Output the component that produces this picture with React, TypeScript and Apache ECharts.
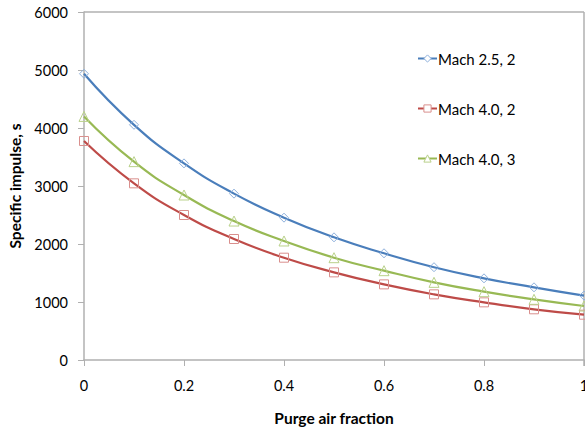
import React, { useEffect, useRef } from "react";
import * as echarts from "echarts";

const purgeFraction = [0, 0.1, 0.2, 0.3, 0.4, 0.5, 0.6, 0.7, 0.8, 0.9, 1.0];
const mach25_2 = [4935, 4055, 3390, 2868, 2454, 2115, 1840, 1600, 1408, 1253, 1110];
const mach40_2 = [3776, 3046, 2500, 2086, 1764, 1511, 1304, 1132, 994, 874, 781];
const mach40_3 = [4200, 3420, 2845, 2396, 2052, 1764, 1540, 1339, 1178, 1046, 931];
const seriesNames = ["Mach 2.5, 2", "Mach 4.0, 2", "Mach 4.0, 3"];

const FONT = "Lato, 'Open Sans', sans-serif";
const LINE_COLORS = ["#4A7EBB", "#BE4B48", "#98B954"];
const MARK_COLORS = ["#8EB0DC", "#D98F8D", "#B9D18A"];

export default function App() {
  const ref = useRef<HTMLDivElement>(null);
  useEffect(() => {
    if (!ref.current) return;
    const chart = echarts.init(ref.current, undefined, { renderer: "svg" });
    const pair = (ys: number[]) => purgeFraction.map((x, i) => [x, ys[i]]);
    const mk = (i: number, ys: number[], symbol: string, size: number) => ({
      name: seriesNames[i],
      type: "line",
      smooth: true,
      data: pair(ys),
      symbol,
      symbolSize: size,
      showAllSymbol: true,
      lineStyle: { color: LINE_COLORS[i], width: 2.2 },
      itemStyle: { color: "rgba(255,255,255,0)", borderColor: MARK_COLORS[i], borderWidth: 1 },
      z: 3,
    });
    const axisColor = "#b0b0b0";
    chart.setOption({
      animation: false,
      backgroundColor: "#fff",
      textStyle: { fontFamily: FONT },
      grid: { left: 84, right: 1, top: 12, bottom: 70, containLabel: false, outerBoundsMode: "none", show: false },
      legend: {
        orient: "vertical",
        left: 412,
        top: 46,
        itemWidth: 19,
        itemHeight: 9,
        itemGap: 35,
        data: seriesNames.map((n, i) => ({
          name: n,
          itemStyle: { color: "#fff", borderColor: MARK_COLORS[i], borderWidth: 1 },
          lineStyle: { color: LINE_COLORS[i], width: 2 },
        })),
        textStyle: { fontFamily: FONT, fontSize: 15, color: "#000", padding: [0, 0, 0, -4] },
      },
      xAxis: {
        type: "value",
        min: 0,
        max: 1,
        interval: 0.2,
        name: "Purge air fraction",
        nameLocation: "middle",
        nameGap: 50,
        nameTextStyle: { fontFamily: FONT, fontSize: 15.5, fontWeight: "bold", color: "#000" },
        axisLine: { show: true, lineStyle: { color: axisColor, width: 1.5 } },
        axisTick: { show: true, length: 6, lineStyle: { color: axisColor, width: 1 } },
        axisLabel: { fontFamily: FONT, fontSize: 14.5, color: "#000", margin: 18 },
        splitLine: { show: false },
      },
      yAxis: {
        type: "value",
        min: 0,
        max: 6000,
        interval: 1000,
        name: "Specific impulse, s",
        nameLocation: "middle",
        nameGap: 60,
        nameTextStyle: { fontFamily: FONT, fontSize: 15.5, fontWeight: "bold", color: "#000" },
        axisLine: { show: true, lineStyle: { color: axisColor, width: 1.5 } },
        axisTick: { show: true, length: 6, lineStyle: { color: axisColor, width: 1 } },
        axisLabel: { fontFamily: FONT, fontSize: 14.5, color: "#000", margin: 16, formatter: (v: number) => String(v) },
        splitLine: { show: false },
      },
      graphic: [
        { type: "line", shape: { x1: 84, y1: 12, x2: 584, y2: 12 }, style: { stroke: axisColor, lineWidth: 1.5 }, silent: true },
        { type: "line", shape: { x1: 584, y1: 12, x2: 584, y2: 366 }, style: { stroke: axisColor, lineWidth: 1.5 }, silent: true },
      ],
      series: [
        mk(0, mach25_2, "diamond", 9),
        mk(1, mach40_2, "rect", 9),
        mk(2, mach40_3, "triangle", 10),
      ],
    });
    return () => chart.dispose();
  }, []);
  return <div ref={ref} style={{ width: 585, height: 430, position: "absolute", left: 0, top: 0 }} />;
}
